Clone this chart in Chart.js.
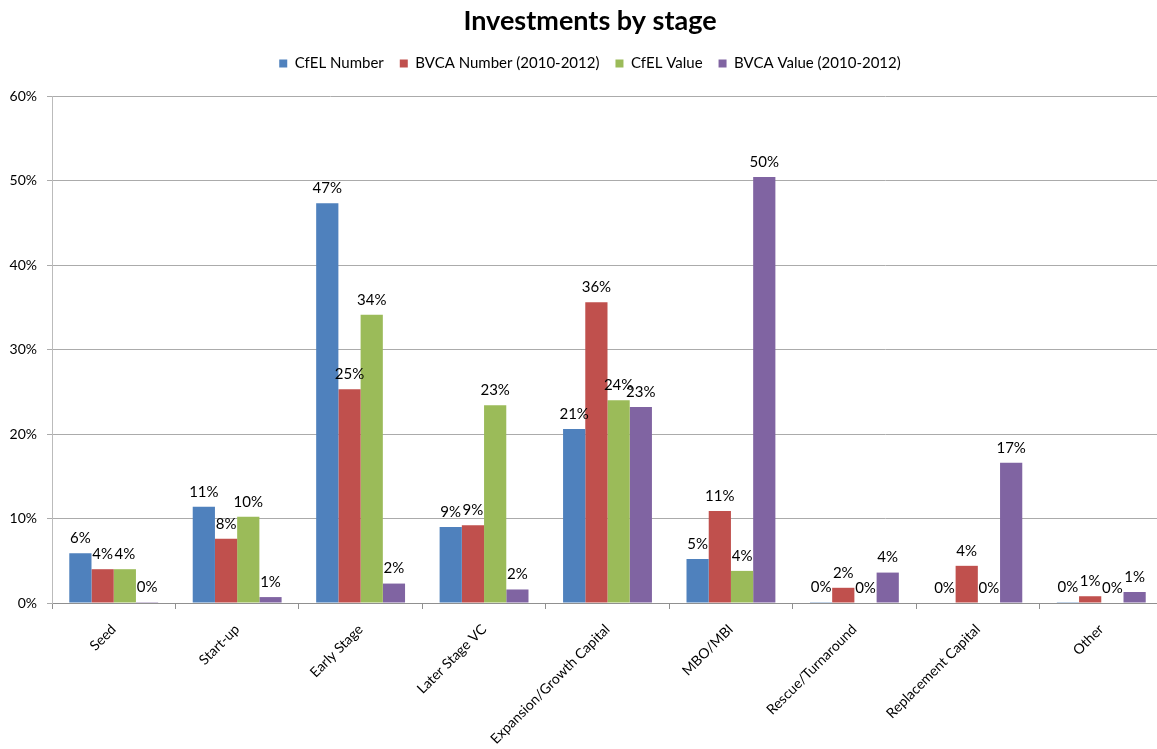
<!DOCTYPE html>
<html>
<head>
<meta charset="utf-8">
<script src="https://cdn.jsdelivr.net/npm/chart.js@4"></script>
<style>
  html, body { margin: 0; padding: 0; background: #fff; overflow: hidden; }
  #wrap { width: 1180px; height: 749px; }
</style>
</head>
<body>
<div id="wrap"><canvas id="c"></canvas></div>
<script>
const categories = ["Seed", "Start-up", "Early Stage", "Later Stage VC", "Expansion/Growth Capital", "MBO/MBI", "Rescue/Turnaround", "Replacement Capital", "Other"];
const seriesNames = ["CfEL Number", "BVCA Number (2010-2012)", "CfEL Value", "BVCA Value (2010-2012)"];
const cfelNumber = [5.9, 11.4, 47.3, 9.0, 20.6, 5.2, 0.1, 0, 0.1];
const bvcaNumber = [4.0, 7.6, 25.3, 9.2, 35.6, 10.9, 1.8, 4.4, 0.8];
const cfelValue = [4.0, 10.2, 34.1, 23.4, 24.0, 3.8, 0, 0, 0];
const bvcaValue = [0.1, 0.7, 2.3, 1.6, 23.2, 50.4, 3.6, 16.6, 1.3];
const yTicks = [0, 10, 20, 30, 40, 50, 60];
const colors = ["#4F81BD", "#C0504D", "#9BBB59", "#8064A2"];

const FONT = "Lato, 'Open Sans', sans-serif";

const labelPlugin = {
  id: 'valueLabels',
  afterDatasetsDraw(chart) {
    const ctx = chart.ctx;
    ctx.save();
    ctx.font = "15px " + FONT;
    ctx.fillStyle = "#000";
    ctx.textAlign = "center";
    ctx.textBaseline = "middle";
    chart.data.datasets.forEach((ds, i) => {
      const meta = chart.getDatasetMeta(i);
      meta.data.forEach((el, j) => {
        const v = ds.data[j];
        ctx.fillText(Math.round(v) + "%", el.x, el.y - 15);
      });
    });
    ctx.restore();
  }
};

const xLabelPlugin = {
  id: 'xLabels',
  afterDraw(chart) {
    const ctx = chart.ctx;
    const xs = chart.scales.x;
    ctx.save();
    ctx.font = "14px " + FONT;
    ctx.fillStyle = "#000";
    ctx.textAlign = "right";
    ctx.textBaseline = "middle";
    categories.forEach((c, i) => {
      const px = xs.getPixelForValue(i);
      ctx.save();
      ctx.translate(px, xs.top + 24);
      ctx.rotate(-Math.PI / 4);
      ctx.fillText(c, 0, 0);
      ctx.restore();
    });
    ctx.restore();
  }
};

const allSeries = [cfelNumber, bvcaNumber, cfelValue, bvcaValue];

new Chart(document.getElementById('c'), {
  type: 'bar',
  data: {
    labels: categories,
    datasets: allSeries.map((d, i) => ({
      label: seriesNames[i],
      data: d,
      backgroundColor: colors[i],
      borderWidth: 0,
      categoryPercentage: 0.72,
      barPercentage: 1.0
    }))
  },
  options: {
    responsive: true,
    maintainAspectRatio: false,
    animation: false,
    layout: { padding: 0 },
    plugins: {
      title: {
        display: true,
        text: "Investments by stage",
        color: "#000",
        font: { family: FONT, size: 27, weight: 'bold' },
        padding: { top: 5.3, bottom: 2.3 }
      },
      subtitle: {
        display: true,
        text: "",
        weight: 500,
        font: { family: FONT, size: 1 },
        padding: { top: 13.8, bottom: 0 }
      },
      legend: {
        display: true,
        position: 'top',
        labels: {
          color: "#000",
          font: { family: FONT, size: 15 },
          boxWidth: 8,
          boxHeight: 8,
          padding: 16
        }
      },
      tooltip: { enabled: false }
    },
    scales: {
      x: {
        grid: { display: true, drawOnChartArea: false, drawTicks: true, tickLength: 6, color: "#909090", offset: true },
        border: { display: true, color: "#909090" },
        ticks: { display: false },
        afterFit(scale) { scale.height = 146; }
      },
      y: {
        min: 0, max: 60,
        afterBuildTicks(scale) { scale.ticks = yTicks.map(v => ({ value: v })); },
        grid: { color: "#ABABAB", tickLength: 5 },
        border: { display: true, color: "#BBBBBB" },
        ticks: { color: "#000", font: { family: FONT, size: 14 }, padding: 10, callback: v => v + "%" },
        afterFit(scale) { scale.width = 52; }
      },
      yRight: {
        position: 'right',
        display: true,
        grid: { display: false },
        border: { display: false },
        ticks: { display: false },
        afterFit(scale) { scale.width = 17; }
      }
    }
  },
  plugins: [labelPlugin, xLabelPlugin]
});
</script>
</body>
</html>
